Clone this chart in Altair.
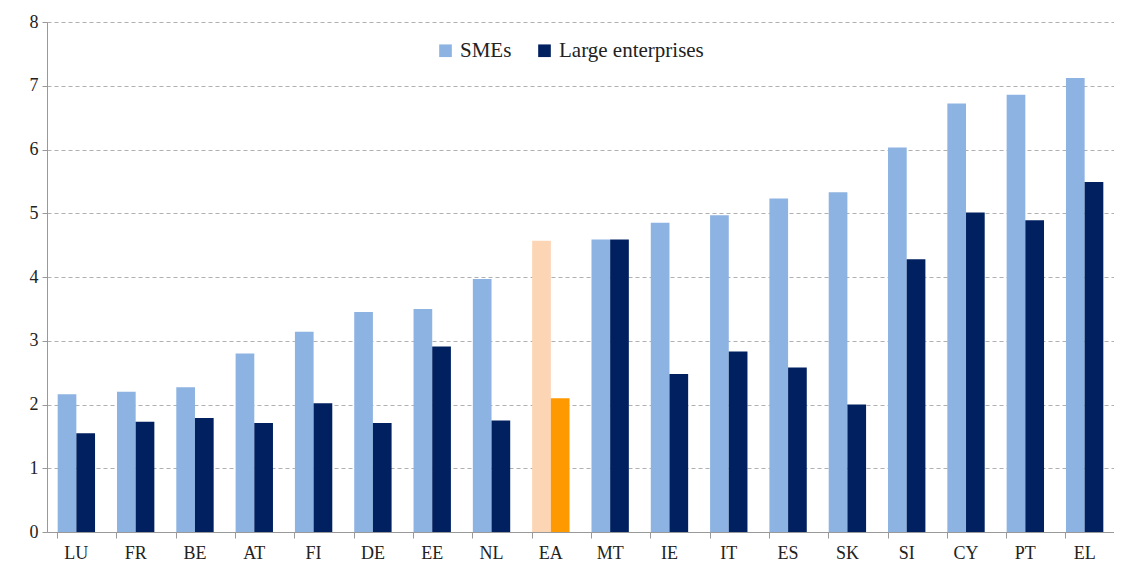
import altair as alt
import pandas as pd

countries = ["LU", "FR", "BE", "AT", "FI", "DE", "EE", "NL", "EA", "MT",
             "IE", "IT", "ES", "SK", "SI", "CY", "PT", "EL"]
smes = [2.16, 2.20, 2.27, 2.80, 3.14, 3.45, 3.50, 3.97, 4.57, 4.59,
        4.85, 4.97, 5.23, 5.33, 6.03, 6.72, 6.86, 7.12]
large = [1.55, 1.73, 1.79, 1.71, 2.02, 1.71, 2.91, 1.75, 2.10, 4.59,
         2.48, 2.83, 2.58, 2.00, 4.28, 5.01, 4.89, 5.49]

rows = []
for c, s, l in zip(countries, smes, large):
    ea = c == "EA"
    rows.append({"country": c, "series": "SMEs", "order": 0, "value": s,
                 "key": "SMEs (EA)" if ea else "SMEs"})
    rows.append({"country": c, "series": "Large enterprises", "order": 1, "value": l,
                 "key": "Large enterprises (EA)" if ea else "Large enterprises"})
df = pd.DataFrame(rows)

font = "Liberation Serif"

chart = alt.Chart(df).mark_bar().encode(
    x=alt.X("country:N", sort=countries, title=None,
            scale=alt.Scale(paddingInner=0.37, paddingOuter=0.18),
            axis=alt.Axis(labelAngle=0, labelFont=font, labelFontSize=18,
                          labelColor="#222222", domainColor="#999999",
                          tickColor="#999999", tickSize=6, bandPosition=0,
                          labelPadding=6, grid=False)),
    xOffset=alt.XOffset("order:O", scale=alt.Scale(paddingInner=0, paddingOuter=0)),
    y=alt.Y("value:Q", title=None,
            scale=alt.Scale(domain=[0, 8], nice=False),
            axis=alt.Axis(values=[0, 1, 2, 3, 4, 5, 6, 7, 8], labelFont=font,
                          labelFontSize=18, labelColor="#222222",
                          domainColor="#999999", tickColor="#999999", tickSize=5,
                          gridColor="#b0b0b0", gridDash=[4, 3], gridWidth=1,
                          labelPadding=4)),
    color=alt.Color("key:N",
                    scale=alt.Scale(domain=["SMEs", "Large enterprises",
                                            "SMEs (EA)", "Large enterprises (EA)"],
                                    range=["#8DB3E2", "#002060", "#FCD5B5", "#FF9900"]),
                    legend=alt.Legend(title=None, values=["SMEs", "Large enterprises"],
                                      orient="none", legendX=388, legendY=18,
                                      direction="horizontal", symbolType="square",
                                      symbolSize=160, symbolStrokeWidth=0,
                                      labelFont=font, labelFontSize=21,
                                      labelColor="#222222", columnPadding=22,
                                      labelLimit=300)),
).properties(
    width=1067, height=510,
    autosize=alt.AutoSizeParams(type="none"),
    padding={"left": 39, "top": 14, "right": 0, "bottom": 30},
).configure_view(stroke=None)

chart.save("out.html", embed_options={"renderer": "svg", "actions": False})
